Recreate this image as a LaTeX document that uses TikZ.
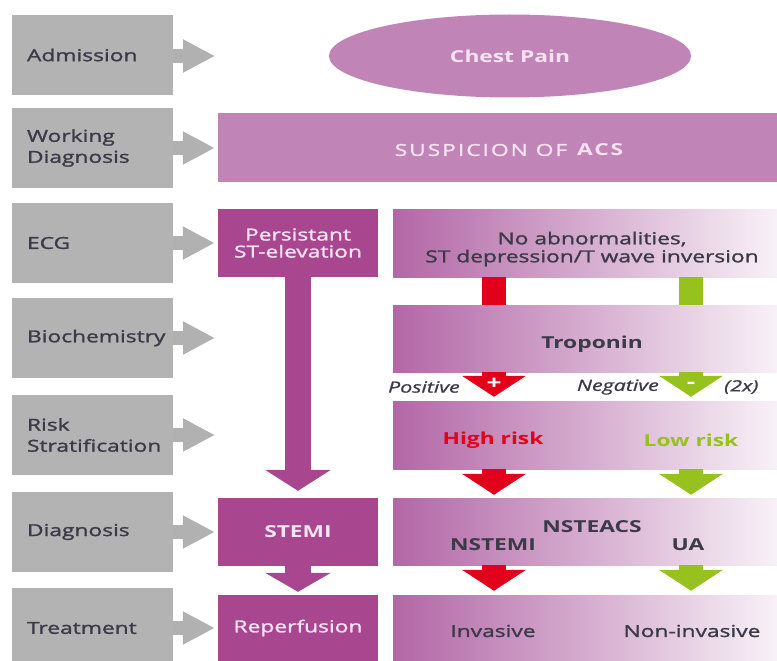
\documentclass[tikz,border=0pt]{standalone}
\usepackage{fontspec}
\setmainfont{Open Sans}[FakeStretch=1.38, UprightFeatures={FakeBold=1.5}, ItalicFeatures={FakeBold=1}]
\usepackage{xcolor}
\usetikzlibrary{positioning,arrows.meta,shapes.geometric}
\definecolor{stagegray}{HTML}{B3B3B3}
\definecolor{arrowgray}{HTML}{B1B1B1}
\definecolor{mauve}{HTML}{C184B7}
\definecolor{plum}{HTML}{A8478F}
\definecolor{fadeleft}{HTML}{B267A6}
\definecolor{faderight}{HTML}{F8F1F7}
\definecolor{inkgray}{HTML}{3C3A48}
\definecolor{riskred}{HTML}{E2001A}
\definecolor{riskgreen}{HTML}{96C11F}
\definecolor{pinkwhite}{HTML}{F6E3F1}
\tikzset{
  stage/.style={rectangle, fill=stagegray, minimum width=161pt, minimum height=80pt, inner xsep=15pt, inner ysep=0pt, text width=131pt, align=left, text=inkgray, font=\fontsize{16.5}{21}\selectfont},
  mauveellipse/.style={ellipse, fill=mauve, minimum width=362pt, minimum height=83pt, inner sep=0pt, text=pinkwhite, font=\fontsize{16.5}{18}\selectfont\bfseries},
  mauvebox/.style={rectangle, fill=mauve, minimum width=559pt, minimum height=69pt, inner sep=0pt},
  plumbox/.style={rectangle, fill=plum, minimum width=160pt, minimum height=68pt, inner sep=0pt, align=center, text=pinkwhite, font=\fontsize{16.5}{17}\selectfont},
  fadebox/.style={rectangle, left color=fadeleft, right color=faderight, minimum width=384pt, minimum height=68pt, inner sep=0pt},
  boxtext/.style={align=center, text=inkgray, inner sep=0pt, font=\fontsize{16.5}{18}\selectfont},
  boldtext/.style={boxtext, font=\fontsize{16.5}{18}\selectfont\bfseries},
  note/.style={text=inkgray, inner sep=0pt, font=\fontsize{15.5}{16}\selectfont\itshape},
  sign/.style={text=white, inner sep=0pt, font=\fontsize{19}{19}\selectfont\bfseries},
  grayarrow/.style={draw=arrowgray, line width=14pt, -{Triangle[length=32pt,width=31pt]}, shorten >=3pt},
  plumarrow/.style={draw=plum, line width=26pt, -{Triangle[length=21pt,width=65pt]}},
  redbar/.style={draw=riskred, line width=24pt},
  greenbar/.style={draw=riskgreen, line width=24pt},
  redarrow/.style={draw=riskred, line width=24pt, -{Triangle[length=21pt,width=63pt]}, shorten >=4pt},
  greenarrow/.style={draw=riskgreen, line width=24pt, -{Triangle[length=21pt,width=63pt]}, shorten >=4pt}
}
\begin{document}
\begin{tikzpicture}[x=1pt,y=-1pt]
\useasboundingbox (0,0) rectangle (777,661);
% stages on the left
\node[stage] (adm) at (92.5,55) {Admission};
\node[stage] (wd) at (92.5,148) {Working\\Diagnosis};
\node[stage] (ecg) at (92.5,243) {ECG};
\node[stage] (bio) at (92.5,338) {Biochemistry};
\node[stage] (risk) at (92.5,435) {Risk\\Stratification};
\node[stage] (diag) at (92.5,532) {Diagnosis};
\node[stage] (treat) at (92.5,628) {Treatment};
% pathway
\node[mauveellipse] (chest) at (510,56) {Chest Pain};
\node[mauvebox] (sus) at (497.5,147.5) {};
\node[text=pinkwhite, inner sep=0pt, font=\fontsize{16.5}{18}\selectfont] (susT) at (510,150) {\addfontfeatures{LetterSpace=12}SUSPICION OF \textbf{ACS}};
\node[plumbox] (pst) at (298,243) {Persistant\\ST-elevation};
\node[plumbox, font=\fontsize{16.5}{17}\selectfont\bfseries] (stemi) at (298,532) {STEMI};
\node[plumbox, minimum height=66pt] (reperf) at (298,628) {Reperfusion};
\node[fadebox] (ecgR) at (585,243) {};
\node[fadebox, minimum height=67pt] (trop) at (585,338.5) {};
\node[fadebox] (riskR) at (585,435) {};
\node[fadebox, minimum height=67pt] (diagR) at (585,531.5) {};
\node[fadebox, minimum height=66pt] (treatR) at (585,628) {};
\coordinate (hiX) at (494,0);
\coordinate (loX) at (691,0);
% texts on the faded boxes
\node[boxtext] (ecgT) at (592,249) {No abnormalities,\\ST depression/T wave inversion};
\node[boldtext] (tropT) at (592,344) {Troponin};
\node[boldtext, text=riskred] (hiT) at (493,440) {High risk};
\node[boldtext, text=riskgreen] (loT) at (691,440) {Low risk};
\node[boldtext] (nsteacs) at (592,527) {NSTEACS};
\node[boldtext] (nstemi) at (493,545) {NSTEMI};
\node[boldtext] (ua) at (688,545) {UA};
\node[boxtext] (inv) at (493,631) {Invasive};
\node[boxtext] (noninv) at (692,631) {Non-invasive};
% gray arrows
\coordinate (admTip) at (218,56);
\coordinate (bioTip) at (218,338);
\coordinate (riskTip) at (218,435);
\draw[grayarrow] (adm.east |- admTip) -- (admTip);
\draw[grayarrow] (wd.east) -- (wd.east -| sus.west);
\draw[grayarrow] (ecg.east) -- (ecg.east -| pst.west);
\draw[grayarrow] (bio.east) -- (bioTip);
\draw[grayarrow] (risk.east) -- (riskTip);
\draw[grayarrow] (diag.east) -- (diag.east -| stemi.west);
\draw[grayarrow] (treat.east) -- (treat.east -| reperf.west);
% STEMI branch
\draw[plumarrow, shorten >=7pt] (pst.south) -- (stemi.north);
\draw[plumarrow, -{Triangle[length=19pt,width=65pt]}, shorten >=3pt] (stemi.south) -- (reperf.north);
% NSTEACS branch
\draw[redbar] (ecgR.south -| hiX) -- (trop.north -| hiX);
\draw[greenbar] (ecgR.south -| loX) -- (trop.north -| loX);
\draw[redarrow] (trop.south -| hiX) -- (riskR.north -| hiX);
\draw[greenarrow] (trop.south -| loX) -- (riskR.north -| loX);
\draw[redarrow, shorten >=3pt] (riskR.south -| hiX) -- (diagR.north -| hiX);
\draw[greenarrow, shorten >=3pt] (riskR.south -| loX) -- (diagR.north -| loX);
\draw[redarrow] (diagR.south -| hiX) -- (treatR.north -| hiX);
\draw[greenarrow] (diagR.south -| loX) -- (treatR.north -| loX);
\node[sign] (plus) at (494,384) {+};
\node[sign] (minus) at (691,385) {-};
\node[note, anchor=east] (pos) at (460,387) {Positive};
\node[note, anchor=east] (neg) at (659,387) {Negative};
\node[note, anchor=west] (twice) at (724,387) {(2x)};
\end{tikzpicture}
\end{document}
